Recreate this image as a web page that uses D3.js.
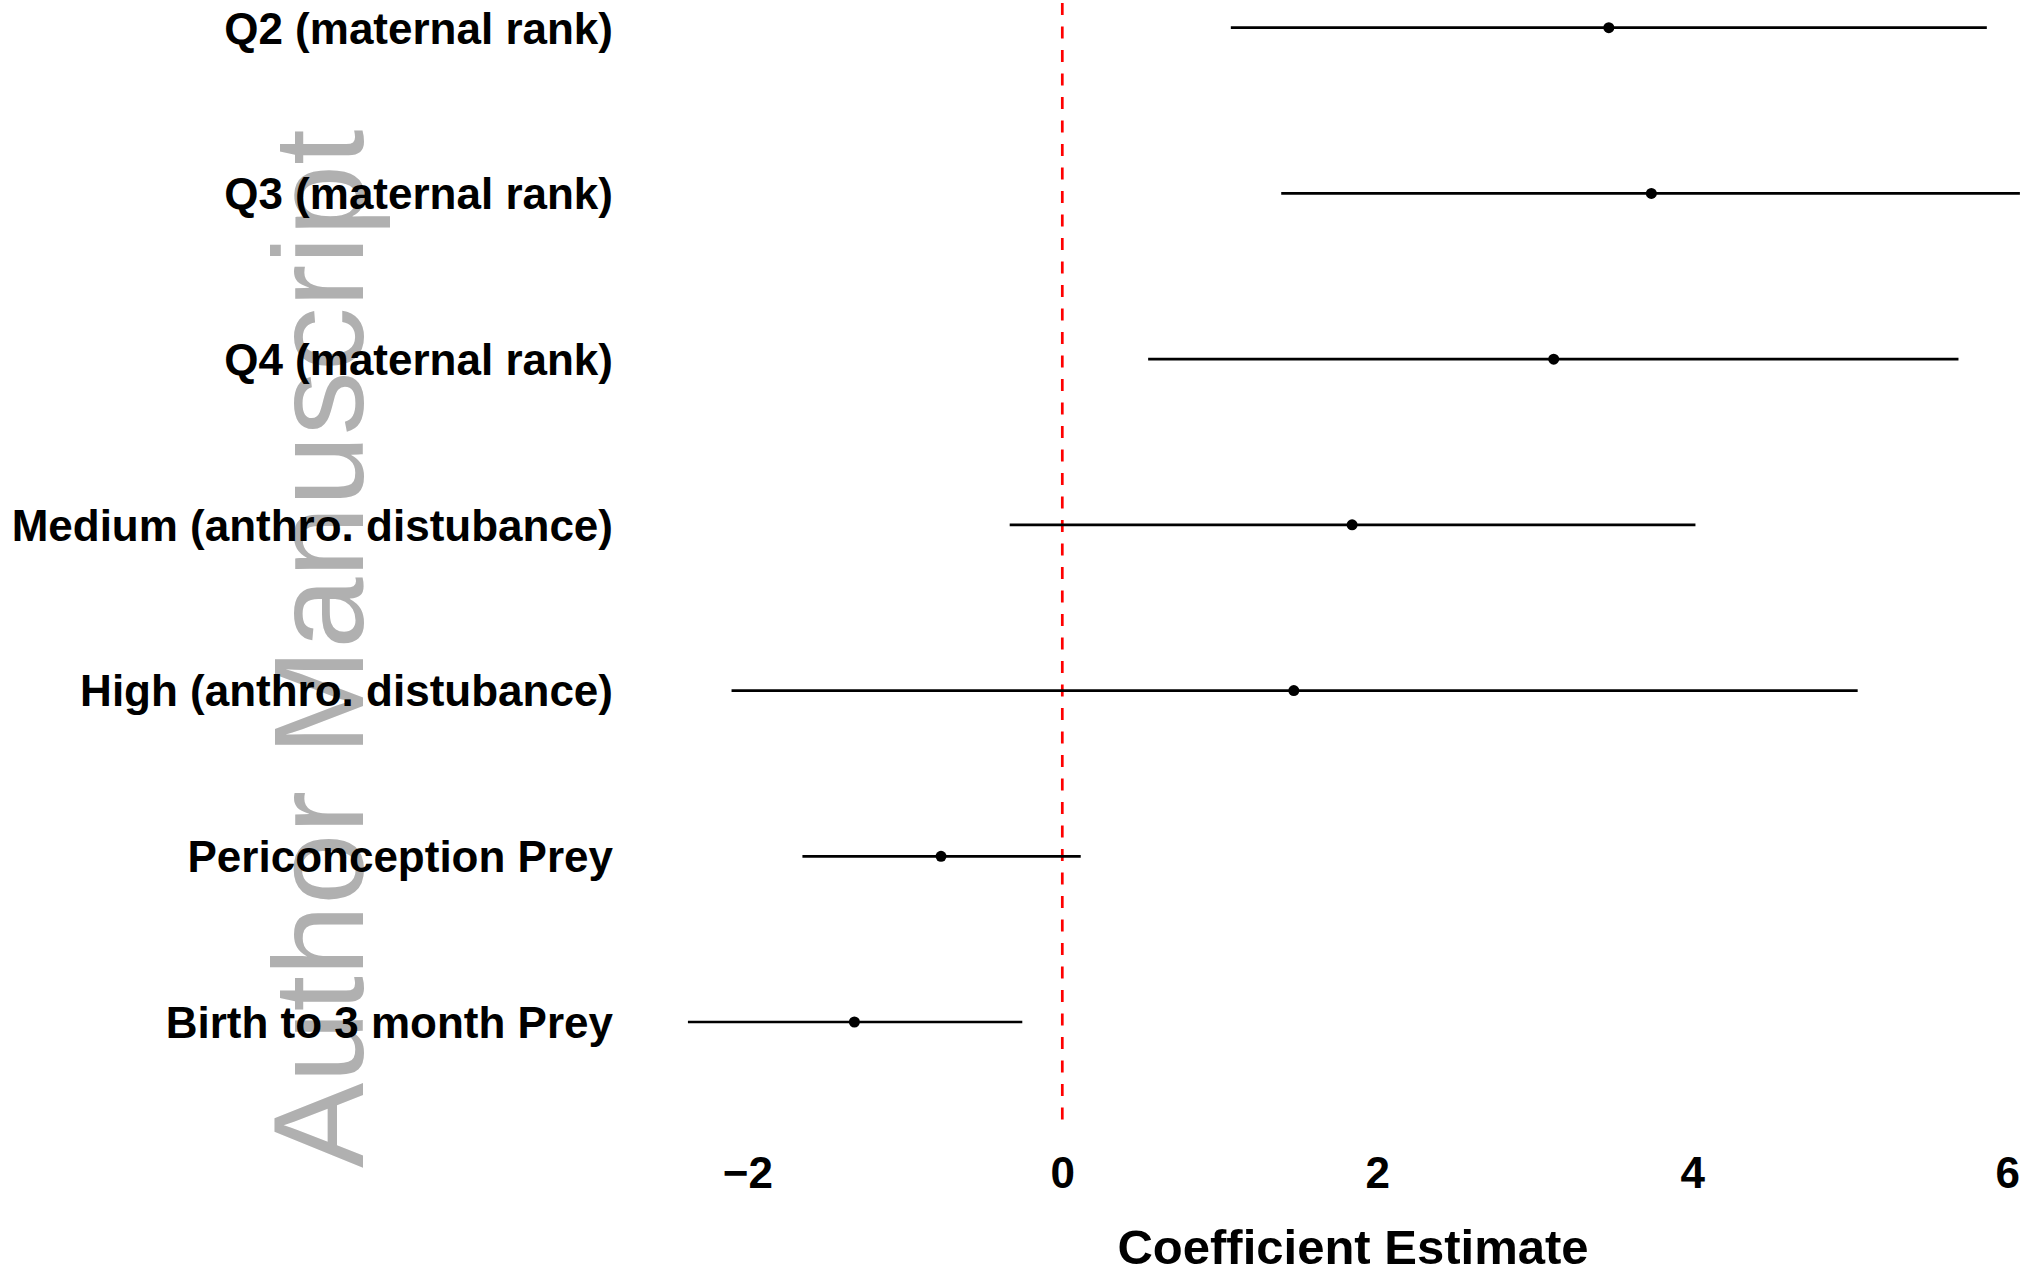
<!DOCTYPE html>
<html>
<head>
<meta charset="utf-8">
<script src="https://cdn.jsdelivr.net/npm/d3@7"></script>
<style>
  html, body { margin: 0; padding: 0; background: #ffffff; }
  svg { display: block; }
  text { font-family: "Liberation Sans", Arial, Helvetica, sans-serif; }
</style>
</head>
<body>
<script>
// ---- data ----
const categories = [
  "Q2 (maternal rank)",
  "Q3 (maternal rank)",
  "Q4 (maternal rank)",
  "Medium (anthro. distubance)",
  "High (anthro. distubance)",
  "Periconception Prey",
  "Birth to 3 month Prey"
];
const estimates = [3.47, 3.74, 3.12, 1.84, 1.47, -0.77, -1.32];
const lower     = [1.07, 1.39, 0.545, -0.334, -2.10, -1.65, -2.377];
const upper     = [5.87, 6.08, 5.69, 4.02, 5.05, 0.117, -0.254];
const xTicks    = [-2, 0, 2, 4, 6];
const xTitle    = "Coefficient Estimate";
const refValue  = 0;
const watermark = "Author Manuscript";

// ---- layout ----
const W = 2037, H = 1274;
const svg = d3.select("body").append("svg").attr("width", W).attr("height", H);

const x = d3.scaleLinear().domain([-2, 6]).range([747.3, 2007.3]);
const y = d3.scalePoint().domain(categories).range([27.7, 1022]);

// watermark
svg.append("text")
  .attr("transform", "translate(363,1168) rotate(-90)")
  .attr("font-size", 128)
  .attr("fill", "#b0b0b0")
  .attr("text-anchor", "start")
  .text(watermark);

// reference line
svg.append("line")
  .attr("x1", x(refValue)).attr("x2", x(refValue))
  .attr("y1", 3).attr("y2", 1122)
  .attr("stroke", "#ff0000")
  .attr("stroke-width", 2.7)
  .attr("stroke-dasharray", "12,11.5");

const rows = categories.map((c, i) => ({ c, est: estimates[i], lo: lower[i], hi: upper[i] }));

// error bars
svg.append("g").selectAll("line").data(rows).join("line")
  .attr("x1", d => x(d.lo)).attr("x2", d => x(d.hi))
  .attr("y1", d => y(d.c)).attr("y2", d => y(d.c))
  .attr("stroke", "#000").attr("stroke-width", 2.7);

// points
svg.append("g").selectAll("circle").data(rows).join("circle")
  .attr("cx", d => x(d.est)).attr("cy", d => y(d.c))
  .attr("r", 5.5).attr("fill", "#000");

// category labels
svg.append("g").selectAll("text").data(categories).join("text")
  .attr("x", 613).attr("y", d => y(d) + 15.8)
  .attr("text-anchor", "end")
  .attr("font-size", 44).attr("font-weight", "bold")
  .attr("fill", "#000")
  .text(d => d);

// x axis (labels only)
const xAxis = d3.axisBottom(x).tickValues(xTicks).tickSize(0).tickPadding(0)
  .tickFormat(d => d < 0 ? "\u2212" + Math.abs(d) : String(d));
const gx = svg.append("g").attr("transform", "translate(0,1156)").call(xAxis);
gx.select(".domain").remove();
gx.selectAll("text")
  .attr("font-size", 44).attr("font-weight", "bold")
  .attr("font-family", "'Liberation Sans', Arial, Helvetica, sans-serif")
  .attr("fill", "#000").attr("dy", null).attr("y", 32);

// axis title
svg.append("text")
  .attr("x", 1353).attr("y", 1264)
  .attr("text-anchor", "middle")
  .attr("font-size", 49).attr("font-weight", "bold")
  .attr("fill", "#000")
  .text(xTitle);
</script>
</body>
</html>
